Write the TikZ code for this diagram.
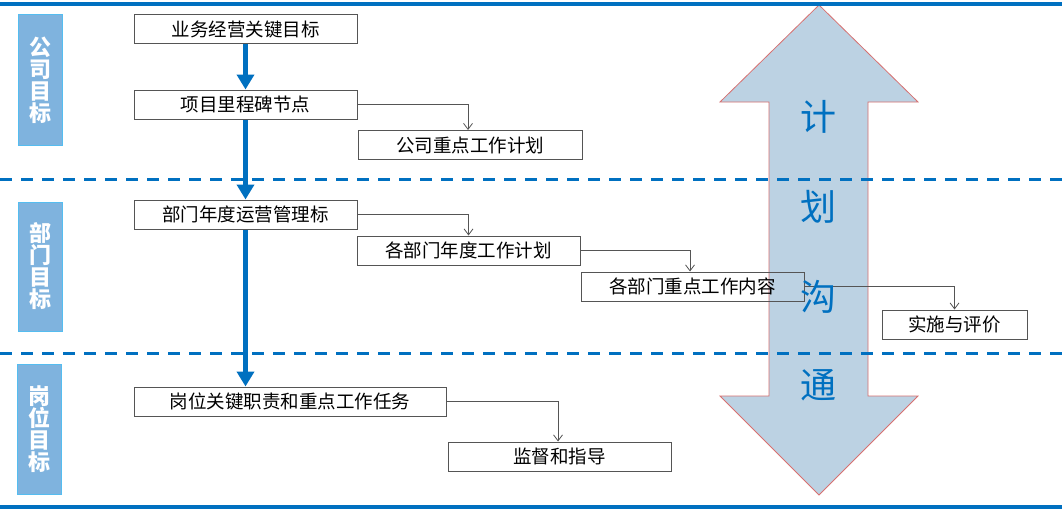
\documentclass[tikz,border=0pt]{standalone}
\usepackage{fontspec}
\setmainfont{Noto Sans CJK SC}
\usetikzlibrary{arrows.meta}
\definecolor{mainblue}{HTML}{0070C0}
\definecolor{lblfill}{HTML}{7FB3DE}
\definecolor{lbledge}{HTML}{55BDF0}
\definecolor{arrfill}{HTML}{BCD2E3}
\definecolor{arredge}{HTML}{D77070}
\definecolor{boxedge}{HTML}{555555}
\tikzset{
  x=1pt, y=-1pt,
  stepbox/.style={draw=boxedge, line width=1pt, font=\fontsize{18.5}{18.5}\selectfont, inner sep=0pt},
  lblbox/.style={fill=lblfill, draw=lbledge, line width=1pt},
  lbltext/.style={text=white, font=\fontsize{22}{22}\selectfont\bfseries, align=center},
  thickarrow/.style={mainblue, line width=5pt, -{Triangle[length=15pt,width=17pt]}},
  thinarrow/.style={draw=boxedge, line width=0.8pt, -{Straight Barb[length=6pt,width=9pt]}},
  sepline/.style={mainblue, line width=3pt, dash pattern=on 12pt off 9pt},
  bigchar/.style={text=mainblue, font=\fontsize{36}{36}\selectfont}
}
\begin{document}
\begin{tikzpicture}
\useasboundingbox (0,0) rectangle (1062,511);
\fill[white] (0,0) rectangle (1062,511);
% big double arrow
\filldraw[fill=arrfill, draw=arredge, line width=0.8pt]
  (819,5) -- (918,102) -- (868,102) -- (868,396) -- (918,396) -- (819,495)
  -- (720,396) -- (769,396) -- (769,102) -- (720,102) -- cycle;
% frame lines
\draw[mainblue, line width=4pt] (0,4) -- (1062,4);
\draw[mainblue, line width=4pt] (0,507) -- (1062,507);
\draw[sepline] (0,179) -- (1062,179);
\draw[sepline] (0,353) -- (1062,353);
% left labels
\draw[lblbox] (18,15) rectangle (62,145);
\node[lbltext] (l1) at (40,80) {公\\司\\目\\标};
\draw[lblbox] (18,202) rectangle (62,331);
\node[lbltext] (l2) at (40,266) {部\\门\\目\\标};
\draw[lblbox] (17,364) rectangle (61,494);
\node[lbltext] (l3) at (39,429) {岗\\位\\目\\标};
% boxes
\node[stepbox, minimum width=223pt, minimum height=29pt] (b1) at (245.5,29.5) {业务经营关键目标};
\node[stepbox, minimum width=223pt, minimum height=29pt] (b2) at (245.5,104.5) {项目里程碑节点};
\node[stepbox, minimum width=224pt, minimum height=29pt] (b3) at (470,145) {公司重点工作计划};
\node[stepbox, minimum width=223pt, minimum height=29pt] (b4) at (245.5,214.5) {部门年度运营管理标};
\node[stepbox, minimum width=223pt, minimum height=29pt] (b5) at (468.5,250.5) {各部门年度工作计划};
\node[stepbox, minimum width=223pt, minimum height=29pt] (b6) at (692.5,286.5) {各部门重点工作内容};
\node[stepbox, minimum width=145pt, minimum height=29pt] (b7) at (954.5,324.5) {实施与评价};
\node[stepbox, minimum width=312pt, minimum height=29pt] (b8) at (290,401.5) {岗位关键职责和重点工作任务};
\node[stepbox, minimum width=223pt, minimum height=29pt] (b9) at (559.5,456.5) {监督和指导};
% thick arrows
\draw[thickarrow] (b1.south) -- (b2.north);
\draw[thickarrow] (b2.south) -- (b4.north);
\draw[thickarrow] (b4.south) -- (b8.north -| b4.south);
% thin connectors
\draw[thinarrow] (b2.east) -| (b3.north -| 468,0);
\draw[thinarrow] (b4.east) -| (b5.north);
\draw[thinarrow] (b5.east) -| (b6.north -| 690,0);
\draw[thinarrow] (b6.east) -| (b7.north);
\draw[thinarrow] (b8.east) -| (b9.north -| 558,0);
% big characters
\node[bigchar] (c1) at (818,117) {计};
\node[bigchar] (c2) at (818,207) {划};
\node[bigchar] (c3) at (818,297) {沟};
\node[bigchar] (c4) at (818,385) {通};
\end{tikzpicture}
\end{document}
